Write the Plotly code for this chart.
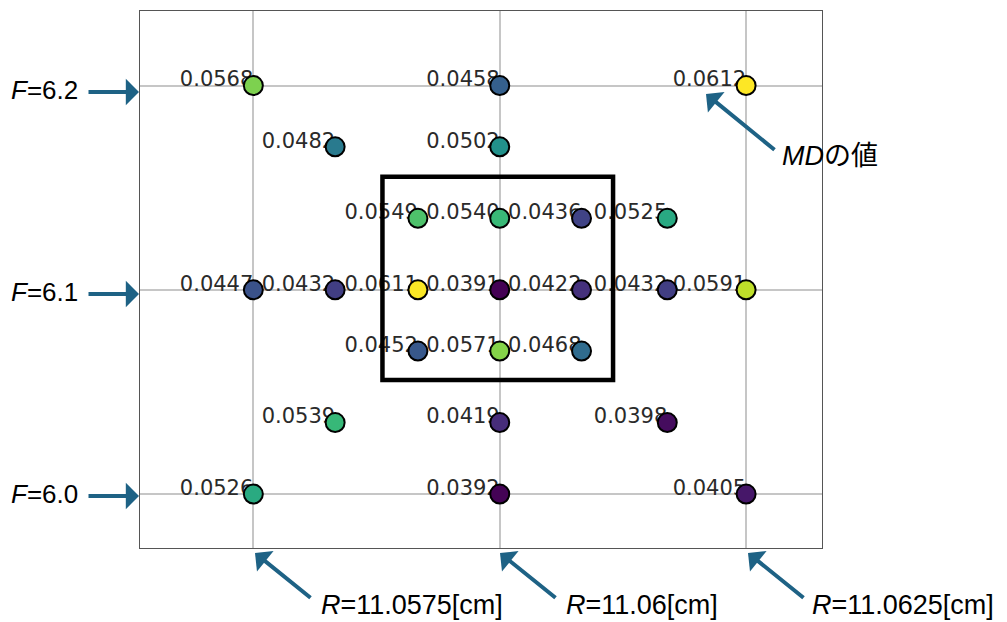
import plotly.graph_objects as go

# ---- data ----
R_vals = [11.0575, 11.06, 11.0625,
          11.05833, 11.06,
          11.05917, 11.06, 11.06083, 11.0617,
          11.0575, 11.05833, 11.05917, 11.06, 11.06083, 11.0617, 11.0625,
          11.05917, 11.06, 11.06083,
          11.05833, 11.06, 11.0617,
          11.0575, 11.06, 11.0625]
F_vals = [6.2, 6.2, 6.2,
          6.17, 6.17,
          6.135, 6.135, 6.135, 6.135,
          6.1, 6.1, 6.1, 6.1, 6.1, 6.1, 6.1,
          6.07, 6.07, 6.07,
          6.035, 6.035, 6.035,
          6.0, 6.0, 6.0]
MD_vals = [0.0568, 0.0458, 0.0612,
           0.0482, 0.0502,
           0.0549, 0.0540, 0.0436, 0.0525,
           0.0447, 0.0432, 0.0611, 0.0391, 0.0422, 0.0432, 0.0591,
           0.0452, 0.0571, 0.0468,
           0.0539, 0.0419, 0.0398,
           0.0526, 0.0392, 0.0405]

R_ticks = [11.0575, 11.06, 11.0625]
F_ticks = [6.0, 6.1, 6.2]
R_tick_labels = ["<i>R</i>=11.0575[cm]", "<i>R</i>=11.06[cm]", "<i>R</i>=11.0625[cm]"]
F_tick_labels = ["<i>F</i>=6.0", "<i>F</i>=6.1", "<i>F</i>=6.2"]
MD_label = "<i>MD</i>の値"
box_R = [11.05881, 11.06115]
box_F = [6.0559, 6.1553]

x_range = [11.05635, 11.06327]
y_range = [5.9736, 6.2365]

# page body has an 8px margin: build the figure slightly smaller and offset
OX, OY = 8, 7
W, H = 1007 - 8, 622 - 8
PW, PH = 682, 537
L, T = 140 - OX, 10 - OY
Rm, B = W - L - PW, H - T - PH

def px(x):
    # window pixel x -> paper coordinate
    return (x - OX - L) / PW

def py(y):
    # window pixel y -> paper coordinate
    return (T + PH - (y - OY)) / PH

text_lift = 0.0022  # small upward offset so labels sit like the reference

fig = go.Figure()
fig.add_trace(go.Scatter(
    x=R_vals, y=[f + text_lift for f in F_vals],
    mode="text",
    text=[f"{v:.4f}" for v in MD_vals],
    textposition="middle left",
    textfont=dict(family="DejaVu Sans", size=21, color="#2a2a2a"),
    hoverinfo="skip", showlegend=False,
))
fig.add_trace(go.Scatter(
    x=R_vals, y=F_vals,
    mode="markers",
    marker=dict(size=19, color=MD_vals, colorscale="Viridis",
                cmin=min(MD_vals), cmax=max(MD_vals),
                line=dict(color="black", width=2)),
    showlegend=False,
))

fig.add_shape(type="rect", xref="x", yref="y",
              x0=box_R[0], x1=box_R[1], y0=box_F[0], y1=box_F[1],
              line=dict(color="black", width=4.5), layer="above")

arrow_col = "#1e6285"
lab_font = dict(family="Liberation Sans, Arial, Noto Sans CJK JP", color="black")
ann = []
# F arrows (left)
for lab, yv, ypx in zip(F_tick_labels, F_ticks, [495, 293, 91]):
    ann.append(dict(xref="paper", yref="paper", x=px(139), y=py(ypx),
                    ax=-52, ay=0, text="", showarrow=True, arrowhead=1,
                    arrowsize=1.1, arrowwidth=4, arrowcolor=arrow_col))
    ann.append(dict(xref="paper", yref="paper", x=px(80), y=py(ypx - 2),
                    xanchor="right", yanchor="middle", text=lab,
                    showarrow=False, font=dict(size=26, **lab_font)))
# R arrows (bottom)
for lab, xtip, xtext in zip(R_tick_labels, [255, 500, 748], [319, 564, 810]):
    ann.append(dict(xref="paper", yref="paper", x=px(xtip), y=py(552),
                    ax=57, ay=46, text="", showarrow=True, arrowhead=1,
                    arrowsize=1.1, arrowwidth=4, arrowcolor=arrow_col))
    ann.append(dict(xref="paper", yref="paper", x=px(xtext), y=py(604),
                    xanchor="left", yanchor="middle", text=lab,
                    showarrow=False, font=dict(size=27, **lab_font)))
# MD arrow
ann.append(dict(xref="paper", yref="paper", x=px(706), y=py(93),
                ax=70, ay=57, text="", showarrow=True, arrowhead=1,
                arrowsize=1.1, arrowwidth=4, arrowcolor=arrow_col))
ann.append(dict(xref="paper", yref="paper", x=px(780), y=py(155),
                xanchor="left", yanchor="middle", text=MD_label,
                showarrow=False, font=dict(size=27, **lab_font)))

fig.update_layout(
    width=W, height=H,
    margin=dict(l=L, r=Rm, t=T, b=B),
    paper_bgcolor="white", plot_bgcolor="white",
    annotations=ann,
    xaxis=dict(range=x_range, tickvals=R_ticks, showticklabels=False, ticks="",
               showgrid=True, gridcolor="#c6c6c6", gridwidth=2, zeroline=False,
               showline=True, mirror=True, linecolor="#555555", linewidth=1),
    yaxis=dict(range=y_range, tickvals=F_ticks, showticklabels=False, ticks="",
               showgrid=True, gridcolor="#c6c6c6", gridwidth=2, zeroline=False,
               showline=True, mirror=True, linecolor="#555555", linewidth=1),
)

fig.write_html("out.html")
